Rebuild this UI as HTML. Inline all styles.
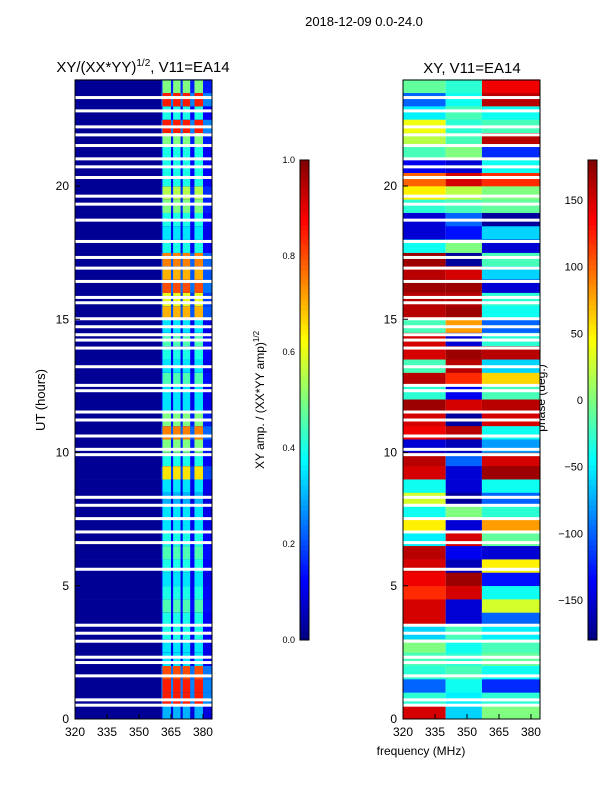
<!DOCTYPE html>
<html><head><meta charset="utf-8"><style>
body{margin:0;background:#fff;width:600px;height:800px;overflow:hidden}
svg{font-family:"Liberation Sans",sans-serif}
</style></head><body>
<svg id="s" width="600" height="800" xmlns="http://www.w3.org/2000/svg">
<text x="364" y="26" font-size="13" text-anchor="middle">2018-12-09 0.0-24.0</text>
<text x="143" y="72" font-size="15" text-anchor="middle">XY/(XX*YY)<tspan font-size="10" dy="-6">1/2</tspan><tspan dy="6">, V11=EA14</tspan></text>
<text x="472" y="73" font-size="15" text-anchor="middle">XY, V11=EA14</text>
<text transform="translate(45,400) rotate(-90)" font-size="13" text-anchor="middle">UT (hours)</text>
<text x="421" y="755" font-size="12" text-anchor="middle">frequency (MHz)</text>
<text transform="translate(264,400) rotate(-90)" font-size="12" text-anchor="middle">XY amp. / (XX*YY amp)<tspan font-size="8" dy="-5">1/2</tspan></text>
<text transform="translate(545,398) rotate(-90)" font-size="12" text-anchor="middle">phase (deg.)</text>
<g id="g"></g>
</svg>
<script>
const hours=[0,0.5,1,1.5,2,2.5,3,3.5,4,4.5,5,5.5,6,6.5,7,7.5,8,8.5,9,9.5,10,10.5,11,11.5,12,12.5,13,13.5,14,14.5,15,15.5,16,16.5,17,17.5,18,18.5,19,19.5,20,20.5,21,21.5,22,22.5,23,23.5];
const ampCols=[0.3,0.85,0.85,0.8,0.35,0.35,0.4,0.4,0.45,0.4,0.35,0.4,0.45,0.4,0.35,0.35,0.3,0.35,0.65,0.4,0.5,0.75,0.5,0.35,0.35,0.45,0.35,0.4,0.45,0.35,0.7,0.6,0.8,0.7,0.75,0.4,0.35,0.4,0.5,0.55,0.4,0.4,0.4,0.5,0.85,0.4,0.85,0.5];
const phaseLow=[150,-30,-100,-30,-20,0,-60,150,150,120,140,150,160,-50,50,-40,30,-40,150,160,-150,140,150,170,-30,160,-20,150,150,-20,160,160,170,160,170,-40,-150,-150,-30,50,100,-140,-20,20,40,-50,-100,-10];
const phaseMid=[-60,-50,-40,-20,-30,-40,-20,-150,-150,150,170,-160,-140,150,-150,0,-170,-150,-150,-100,-160,160,-170,150,-140,120,160,170,-150,80,170,160,170,150,-170,0,-130,-100,-20,20,150,-150,0,-20,-30,-20,-40,-30];
const phaseHigh=[0,-30,-120,-40,-10,-20,-50,-100,30,-40,-130,50,-150,-10,80,-30,-100,-40,170,150,-80,-40,150,160,-20,60,-60,160,-30,-100,-40,-30,-150,-60,-20,-150,-60,-170,-10,0,120,-40,-120,160,-20,-40,160,140];
const flagged=[0.5,0.7,1.6,2.1,2.3,2.9,3.2,3.5,5.6,6.6,7.0,7.5,8.0,8.3,9.9,10.1,10.6,11.2,11.5,12.3,12.5,13.2,13.9,14.2,14.4,14.7,15.0,15.6,15.8,16.4,16.9,17.3,17.9,18.7,19.3,19.6,20.3,20.7,21.0,21.5,21.9,22.2,22.8,23.3];
const ampTicks=[0,0.2,0.4,0.6,0.8,1.0];
const phaseTicks=[-150,-100,-50,0,50,100,150];
const freqTicks=[320,335,350,365,380];
const hourTicks=[0,5,10,15,20];
const NS="http://www.w3.org/2000/svg",G=document.getElementById('g');
function jet(v){v=Math.max(0,Math.min(1,v));const c=x=>Math.round(255*Math.max(0,Math.min(1,1.5-Math.abs(4*v-x))));return `rgb(${c(3)},${c(2)},${c(1)})`;}
function el(t,a){const e=document.createElementNS(NS,t);for(const k in a)e.setAttribute(k,a[k]);G.appendChild(e);return e;}
const yT=h=>719-h*26.65;
const xL=f=>75+(f-320)*2.133, xR=f=>403+(f-320)*2.133;
const fMax=384.2;
hours.forEach((h,i)=>{
  const y=yT(h+0.5),hh=26.65*0.5+0.3;
  let r=el('rect',{x:xL(320),y:y,width:xL(fMax)-xL(320),height:hh,fill:jet(0.02)});
  
  
  r=el('rect',{x:xL(360.5),y:y,width:xL(fMax)-xL(360.5),height:hh,fill:jet(ampCols[i]*0.3)});
  
  
  [[361,365],[366,369.5],[370.5,374],[376,380]].forEach(c=>{
    const q=el('rect',{x:xL(c[0]),y:y,width:xL(c[1])-xL(c[0]),height:hh,fill:jet(ampCols[i])});
    
    
  });
  [[320,340,phaseLow],[340,357,phaseMid],[357,fMax,phaseHigh]].forEach(s=>{
    const q=el('rect',{x:xR(s[0]),y:y,width:xR(s[1])-xR(s[0]),height:hh,fill:jet((s[2][i]+180)/360)});
    
    
  });
});
flagged.forEach(h=>{
  [[xL,'amp-flag'],[xR,'phase-flag']].forEach(p=>{
    const r=el('rect',{x:p[0](320),y:yT(h)-2,width:p[0](fMax)-p[0](320),height:3,fill:'#fff'});
    
    
  });
});
[[75,'left-axes'],[403,'right-axes']].forEach(([x0,nm],k)=>{
  const f=el('rect',{x:x0,y:80,width:137,height:639,fill:'none',stroke:'#000','stroke-width':1});
  
  
  const xs=k?xR:xL;
  freqTicks.forEach(t=>{
    el('line',{x1:xs(t),x2:xs(t),y1:719,y2:714,stroke:'#000'});
    const tx=el('text',{x:xs(t),y:736,'font-size':12,'text-anchor':'middle'});tx.textContent=t;
    
    
  });
  hourTicks.forEach(t=>{
    el('line',{x1:x0,x2:x0+5,y1:yT(t),y2:yT(t),stroke:'#000'});
    const tx=el('text',{x:x0-6,y:yT(t)+4,'font-size':12,'text-anchor':'end'});tx.textContent=t;
    
    
  });
});
for(let i=0;i<96;i++){
  const v=i/96,y=640-(i+1)*5;
  let r=el('rect',{x:300,y:y,width:9,height:5.3,fill:jet(v+0.005)});
  
  
  r=el('rect',{x:588,y:y,width:9,height:5.3,fill:jet(v+0.005)});
  
  
}
[[300,'amp-colorbar'],[588,'phase-colorbar']].forEach(([x,n])=>{
  const r=el('rect',{x:x,y:160,width:9,height:480,fill:'none',stroke:'#000'});
  
  
});
ampTicks.forEach(t=>{
  const y=640-t*480;
  const tx=el('text',{x:295,y:y+3,'font-size':9,'text-anchor':'end'});tx.textContent=t.toFixed(1);
  
  
});
phaseTicks.forEach(t=>{
  const y=640-(t+180)/360*480;
  const tx=el('text',{x:583,y:y+4,'font-size':11,'text-anchor':'end'});tx.textContent=t<0?'\u2212'+(-t):t;
  
  
});
</script>
</body></html>
